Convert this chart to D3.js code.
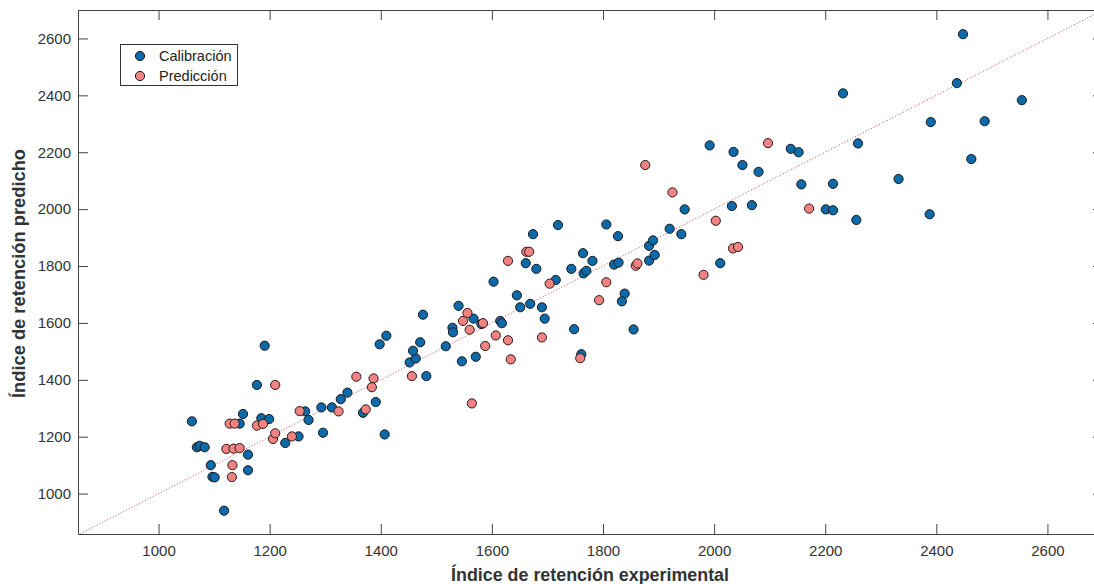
<!DOCTYPE html>
<html><head><meta charset="utf-8">
<script src="https://cdn.jsdelivr.net/npm/d3@7"></script>
<style>
body{margin:0;background:#fff;}
svg{display:block;}
.ax text{font-family:"Liberation Sans",Arial,sans-serif;font-size:15px;fill:#333;}
.ax path,.ax line{stroke:#444;stroke-width:1;}
</style></head>
<body>
<svg id="c" width="1094" height="584"></svg>
<script>
// Calibration (blue) points: experimental, predicted
const calX = [1191,1177,1060,1069,1074,1083,1152,1146,1185,1199,1161,1094,1097,1101,1161,1118,1228,1252,1264,1270,1293,1296,1312,1328,1368,1391,1407,
  1340,1398,1410,1482,1452,1463,1458,1471,1476,1517,1529,1530,1540,1546,1567,1571,1581,1615,1618,1603,1645,1651,1669,1661,1680,1690,1695,1715,1743,1748,1761,1764,1781,1765,1770,
  1839,1834,1855,1806,1827,1820,1828,1883,1890,1883,1893,1947,1920,1941,2032,2068,2011,2157,2214,2201,2214,2256,
  2448,2437,2554,2390,2487,2259,2463,2332,2388,1992,2035,2051,2080,2138,2152,2232,1719,1674];
const calY = [1520,1382,1254,1163,1168,1163,1280,1246,1265,1262,1137,1100,1059,1057,1082,940,1178,1201,1289,1259,1303,1214,1303,1332,1284,1322,1208,
  1355,1525,1555,1413,1461,1475,1502,1532,1629,1518,1583,1567,1660,1465,1615,1481,1596,1607,1599,1745,1697,1655,1667,1810,1790,1655,1615,1751,1790,1578,1490,1845,1818,1774,1783,
  1703,1676,1577,1946,1905,1805,1812,1871,1890,1819,1839,1999,1931,1912,2011,2014,1810,2087,2089,1999,1996,1962,
  2615,2443,2383,2306,2309,2231,2176,2106,1982,2224,2201,2155,2131,2212,2200,2407,1944,1912];
// Prediction (pink) points
const preX = [1210,1128,1137,1177,1188,1122,1135,1146,1133,1132,1206,1210,1240,1254,1324,1373,1356,1387,1384,1456,1556,1548,1560,1564,1584,1588,1607,1629,1634,1629,1662,1667,1690,1704,1759,1793,1806,1859,1862,1925,2003,2034,2043,1981,2171,1876,2097];
const preY = [1382,1246,1246,1239,1245,1157,1158,1160,1100,1058,1192,1212,1201,1290,1289,1296,1411,1405,1374,1413,1635,1607,1576,1317,1599,1519,1556,1539,1472,1818,1850,1850,1549,1738,1476,1680,1743,1801,1809,2059,1959,1862,1867,1769,2002,2155,2232];
const xTicks = [1000,1200,1400,1600,1800,2000,2200,2400,2600];
const yTicks = [1000,1200,1400,1600,1800,2000,2200,2400,2600];
const xDomain = [855, 2700];
const yDomain = [858, 2700];
const legendLabels = ["Calibración", "Predicción"];
const xLabel = "Índice de retención experimental";
const yLabel = "Índice de retención predicho";

const colors = ["#0c6aab", "#f08282"];
const L = 78, T = 10, R = 1103, B = 534;
const svg = d3.select("#c");
const x = d3.scaleLinear().domain(xDomain).range([L, R]);
const y = d3.scaleLinear().domain(yDomain).range([B, T]);

svg.append("defs").append("clipPath").attr("id","clip")
  .append("rect").attr("x",L).attr("y",T).attr("width",R-L).attr("height",B-T);

svg.append("g").attr("class","ax").attr("transform",`translate(0,${B})`)
  .call(d3.axisBottom(x).tickValues(xTicks).tickFormat(d3.format("d")).tickSizeInner(-10).tickSizeOuter(0).tickPadding(11));
svg.append("g").attr("class","ax").attr("transform",`translate(0,${T})`)
  .call(d3.axisTop(x).tickValues(xTicks).tickFormat("").tickSizeInner(-10).tickSizeOuter(0));
svg.append("g").attr("class","ax").attr("transform",`translate(${L},0)`)
  .call(d3.axisLeft(y).tickValues(yTicks).tickFormat(d3.format("d")).tickSizeInner(-10).tickSizeOuter(0).tickPadding(7));
svg.append("g").attr("class","ax").attr("transform",`translate(${R},0)`)
  .call(d3.axisRight(y).tickValues(yTicks).tickFormat("").tickSizeInner(-10).tickSizeOuter(0));

// identity line
const lo = Math.min(xDomain[0], yDomain[0]), hi = Math.max(xDomain[1], yDomain[1]);
svg.append("line").attr("clip-path","url(#clip)")
  .attr("x1", x(lo)).attr("y1", y(lo)).attr("x2", x(hi)).attr("y2", y(hi))
  .attr("stroke","#d0454f").attr("stroke-width",1).attr("stroke-dasharray","1,2");

const cal = calX.map((v,i)=>({x:v,y:calY[i]}));
const pre = preX.map((v,i)=>({x:v,y:preY[i]}));
svg.append("g").selectAll("circle").data(cal).join("circle")
  .attr("cx",d=>x(d.x)).attr("cy",d=>y(d.y)).attr("r",4.6)
  .attr("fill",colors[0]).attr("stroke","#1a1a1a").attr("stroke-width",1);
svg.append("g").selectAll("circle").data(pre).join("circle")
  .attr("cx",d=>x(d.x)).attr("cy",d=>y(d.y)).attr("r",4.6)
  .attr("fill",colors[1]).attr("stroke","#2a1a1a").attr("stroke-width",1);

// legend
const lg = svg.append("g");
lg.append("rect").attr("x",120.5).attr("y",44.5).attr("width",117).attr("height",41)
  .attr("fill","#fff").attr("stroke","#333").attr("stroke-width",1);
legendLabels.forEach((t,i)=>{
  lg.append("circle").attr("cx",140).attr("cy",56+i*20).attr("r",4.6)
    .attr("fill",colors[i]).attr("stroke","#1a1a1a").attr("stroke-width",1);
  lg.append("text").attr("x",159).attr("y",61+i*20).text(t)
    .attr("font-family","Liberation Sans, Arial, sans-serif").attr("font-size","14.5px").attr("fill","#222");
});

// axis labels
const lab = {"font-family":"'Liberation Sans',Arial,sans-serif","font-weight":"bold","font-size":"18.5px","fill":"#333"};
const xl = svg.append("text").attr("x",590).attr("y",581).attr("text-anchor","middle").text(xLabel)
  .attr("textLength",278).attr("lengthAdjust","spacingAndGlyphs");
const yl = svg.append("text").attr("transform",`translate(25,273.5) rotate(-90)`).attr("text-anchor","middle").text(yLabel)
  .attr("textLength",249).attr("lengthAdjust","spacingAndGlyphs");
[xl,yl].forEach(t=>Object.entries(lab).forEach(([k,v])=>t.attr(k,v)));
</script>
</body></html>
